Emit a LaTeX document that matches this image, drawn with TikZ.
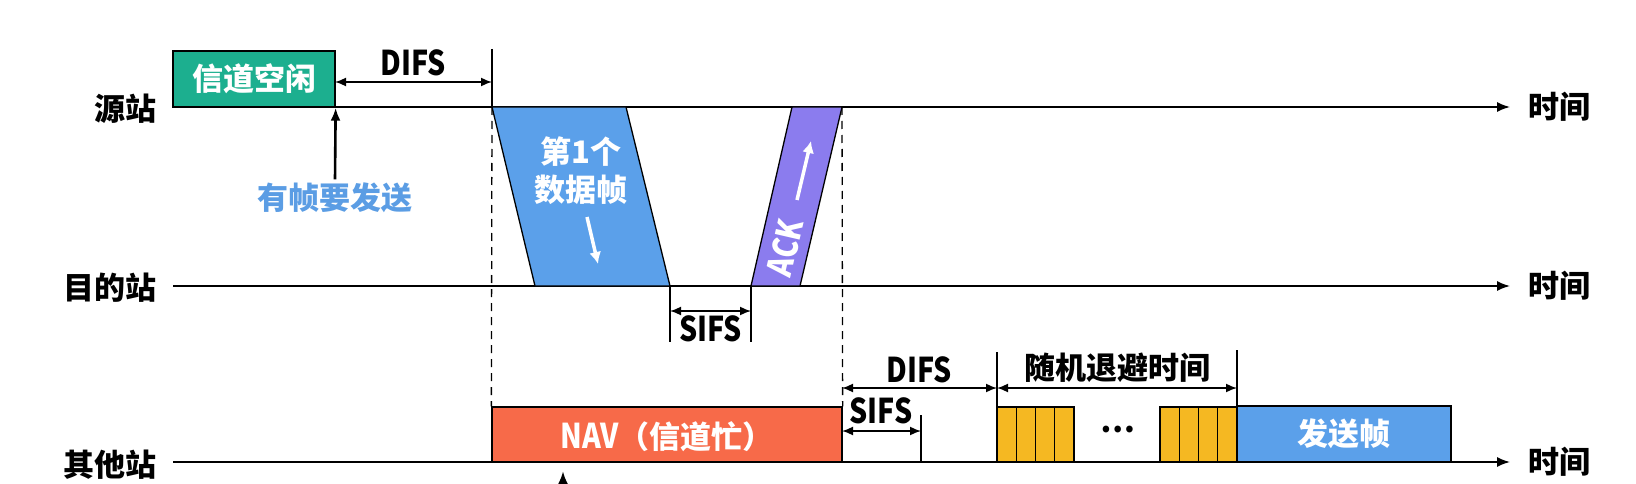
\documentclass[tikz,border=0pt]{standalone}
\usepackage{fontspec}
\setmainfont{Noto Sans CJK SC}[BoldFont=* Black]
\usetikzlibrary{positioning}
\usetikzlibrary{arrows.meta,calc}
\usetikzlibrary{fit}
\definecolor{idlegreen}{HTML}{1CAF8F}
\definecolor{datablue}{HTML}{5BA0EA}
\definecolor{ackpurple}{HTML}{8B7CEE}
\definecolor{navred}{HTML}{F76A49}
\definecolor{slotyellow}{HTML}{F5B822}
\definecolor{hintblue}{HTML}{5B9DE4}
\newcommand{\narrowtxt}[1]{\scalebox{0.92}[1.1]{#1}}

\begin{document}
\begin{tikzpicture}[x=1pt, y=-1pt,
  big/.style={font=\fontsize{31}{38}\selectfont\bfseries},
  axis/.style={line width=1.6pt, -{Latex[length=13pt,width=10pt]}},
  dim/.style={line width=1.6pt, {Latex[length=11pt,width=9pt]}-{Latex[length=11pt,width=9pt]}},
  tick/.style={line width=1.3pt},
  guide/.style={line width=1.3pt, dash pattern=on 8pt off 6pt},
  frame/.style={draw, line width=1.3pt},
]
\useasboundingbox (0,0) rectangle (1636,484);
% time axes
\coordinate (srcA) at (173,107);
\coordinate (srcB) at (1510,107);
\coordinate (dstA) at (173,286);
\coordinate (dstB) at (1510,286);
\coordinate (othA) at (173,462);
\coordinate (othB) at (1510,462);
\node[big, anchor=east] (src) at (160,109) {源站};
\node[big, anchor=east] (dst) at (160,288) {目的站};
\node[big, anchor=east] (oth) at (160,465) {其他站};
\draw[axis] (srcA) -- (srcB) node[big, right=14pt] (t1) {时间};
\draw[axis] (dstA) -- (dstB) node[big, right=14pt] (t2) {时间};
\draw[axis] (othA) -- (othB) node[big, right=14pt] (t3) {时间};

% source station
\node[frame, fill=idlegreen, fit={(173,51) (335,107)}, inner sep=0pt, label={[big, text=white]center:信道空闲}] (idle) {};
\coordinate (sendT) at (492,49);
\coordinate (sendB) at (492,107);
\draw[tick] (sendT) -- (sendB);
\coordinate (difsA) at (335,82);
\coordinate (difsB) at (492,82);
\draw[dim] (difsA) -- (difsB) node[midway, above=2pt, big] {\narrowtxt{DIFS}};
\node[big, text=hintblue] (hint) at (335,198) {有帧要发送};
\draw[axis, line width=2.6pt] (hint.north) -- (idle.south east);

% data frame
\coordinate (d1) at (492,107);
\coordinate (d2) at (626,107);
\coordinate (d3) at (670,286);
\coordinate (d4) at (535,286);
\draw[frame, fill=datablue] (d1) -- (d2) -- (d3) -- (d4) -- cycle;
\node[big, text=white, align=center] (data) at (581,171) {第1个\\数据帧};
\coordinate (dArrA) at (587,217);
\coordinate (dArrB) at (598,264);
\draw[white, line width=3.5pt, -{Latex[length=12pt,width=12pt]}] (dArrA) -- (dArrB);

% ack frame
\coordinate (a1) at (751,286);
\coordinate (a2) at (800,286);
\coordinate (a3) at (842,107);
\coordinate (a4) at (792,107);
\draw[frame, fill=ackpurple] (a1) -- (a2) -- (a3) -- (a4) -- cycle;
\node[big, text=white, rotate=77] (ack) at (785,248) {\narrowtxt{ACK}};
\coordinate (aArrA) at (797,200);
\coordinate (aArrB) at (811,141);
\draw[white, line width=3.5pt, -{Latex[length=12pt,width=12pt]}] (aArrA) -- (aArrB);

% SIFS at destination
\coordinate (s1) at (670,342);
\coordinate (s2) at (751,342);
\draw[tick] (d3) -- (s1);
\draw[tick] (a1) -- (s2);
\coordinate (sifsA) at (670,311);
\coordinate (sifsB) at (751,311);
\draw[dim] (sifsA) -- (sifsB) node[midway, below=1pt, big] {\narrowtxt{SIFS}};

% other stations
\node[frame, fill=navred, fit={(492,407) (842,462)}, inner sep=0pt, label={[big, text=white, yshift=-2pt]center:\narrowtxt{NAV}（信道忙）}] (nav) {};
\draw[guide] (d1) -- (nav.north west);
\draw[guide] (a3) -- (nav.north east);
\coordinate (navArrA) at (563,500);
\coordinate (navArrB) at (563,471);
\draw[axis, line width=2.6pt] (navArrA) -- (navArrB);

\coordinate (b1T) at (997,352);
\coordinate (b1B) at (997,407);
\coordinate (b2T) at (1237,350);
\coordinate (b2B) at (1237,406);
\coordinate (b3T) at (921,415);
\coordinate (b3B) at (921,462);
\draw[tick] (b1T) -- (b1B);
\draw[tick] (b2T) -- (b2B);
\draw[tick] (b3T) -- (b3B);
\draw[dim] (842,388) -- (b1B |- 0,388) node[midway, above=1pt, big] {\narrowtxt{DIFS}};
\draw[dim] (b1B |- 0,388) -- (b2B |- 0,388) node[midway, above=1pt, big] {随机退避时间};
\draw[dim] (842,431) -- (b3B |- 0,431);
\node[big, inner sep=0pt] (sifs2) at (881,411) {\narrowtxt{SIFS}};

% backoff slots
\foreach \i in {0,...,3} {
  \draw[frame, fill=slotyellow] ({997+19.25*\i},407) rectangle ++(19.25,55);
  \draw[frame, fill=slotyellow] ({1160+19.25*\i},407) rectangle ++(19.25,55);
}
\node[big] (dots) at (1118,430) {…};
\node[frame, fill=datablue, fit={(1237,406) (1451,462)}, inner sep=0pt, label={[big, text=white]center:发送帧}] (send) {};
\end{tikzpicture}
\end{document}
